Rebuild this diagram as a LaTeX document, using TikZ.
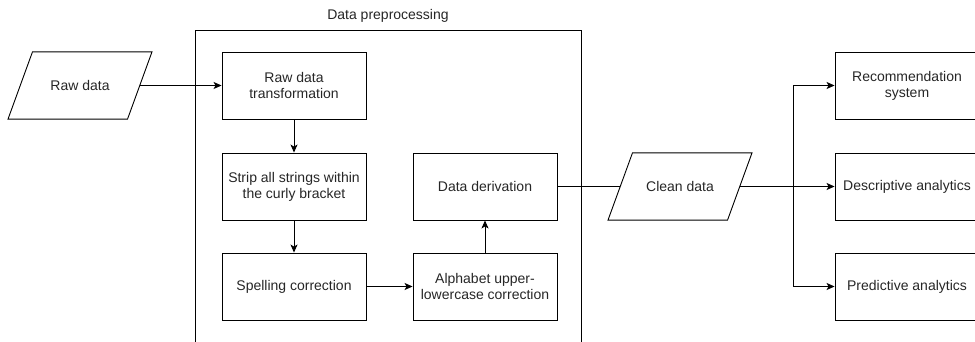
\documentclass[tikz,border=0pt]{standalone}
\usepackage{fontspec}
\setmainfont{Liberation Sans}
\usetikzlibrary{arrows.meta,shapes.geometric}
\tikzstyle{block}=[draw, line width=0.9pt, minimum width=144pt, minimum height=67pt, align=center, font=\fontsize{14}{16}\selectfont, text=black!85]
\tikzstyle{io}=[block, trapezium, trapezium left angle=70, trapezium right angle=110, trapezium stretches body=true, inner ysep=28.5pt]
\tikzstyle{arrow}=[draw, line width=0.9pt, -{Stealth[length=8pt,width=7pt,inset=2pt]}]
\tikzstyle{line}=[draw, line width=0.9pt]

\begin{document}
\begin{tikzpicture}[x=1pt, y=-1pt]
\clip (0,0) rectangle (975,342); % page size
\node[io] (raw) at (80,85.5) {Raw data};
% preprocessing frame
\node[draw, line width=0.9pt, minimum width=386pt, minimum height=340pt, anchor=north west] (prep) at (195,30) {};
\node[font=\fontsize{14}{16}\selectfont, text=black!85] (preplabel) at (388,16) {Data preprocessing};
\node[block] (trans) at (294,85.5) {Raw data\\transformation};
\node[block] (strip) at (294,186.5) {Strip all strings within\\the curly bracket};
\node[block] (spell) at (294,286.5) {Spelling correction};
\node[block] (alpha) at (485,286.5) {Alphabet upper-\\lowercase correction};
\node[block] (deriv) at (485,186.5) {Data derivation};
% output side
\node[io] (clean) at (680,186.5) {Clean data};
\node[block] (rec) at (907,85.5) {Recommendation\\system};
\node[block] (desc) at (907,186.5) {Descriptive analytics};
\node[block] (pred) at (907,286.5) {Predictive analytics};
\coordinate (split) at (793,186.5);
\foreach \a/\b in {raw/trans, trans/strip, strip/spell, spell/alpha, alpha/deriv}
\path[arrow] (\a) -- (\b);
\path[line] (deriv) -- (clean);
\path[arrow] (clean) -- (desc);
\foreach \t in {rec, pred} % branches off the clean data line
\path[arrow] (split) |- (\t);
\end{tikzpicture}
\end{document}
